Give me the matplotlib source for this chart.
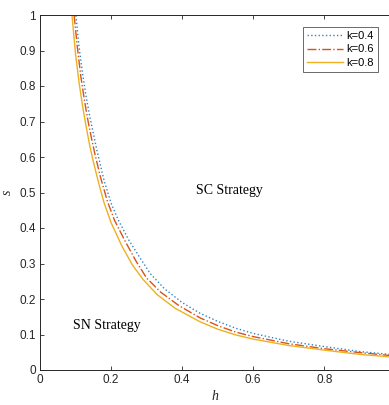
import matplotlib.pyplot as plt

# values (h, s) for each k
h_k04 = [0.097, 0.101, 0.110, 0.120, 0.130, 0.140, 0.150, 0.160, 0.180, 0.200, 0.220,
         0.250, 0.280, 0.310, 0.350, 0.400, 0.450, 0.500, 0.550, 0.600, 0.700, 0.800,
         0.900, 0.983]
s_k04 = [1.040, 1.000, 0.909, 0.833, 0.769, 0.714, 0.667, 0.619, 0.535, 0.470, 0.423,
         0.366, 0.318, 0.272, 0.229, 0.190, 0.160, 0.137, 0.118, 0.103, 0.081, 0.066,
         0.052, 0.044]

h_k06 = [0.092, 0.096, 0.105, 0.115, 0.125, 0.135, 0.145, 0.155, 0.170, 0.190, 0.210,
         0.240, 0.270, 0.300, 0.340, 0.390, 0.450, 0.500, 0.550, 0.600, 0.700, 0.800,
         0.900, 0.983]
s_k06 = [1.040, 1.000, 0.910, 0.826, 0.760, 0.702, 0.652, 0.606, 0.544, 0.474, 0.421,
         0.362, 0.307, 0.259, 0.219, 0.182, 0.147, 0.125, 0.107, 0.094, 0.074, 0.060,
         0.049, 0.041]

h_k08 = [0.086, 0.090, 0.100, 0.110, 0.120, 0.130, 0.140, 0.150, 0.165, 0.180, 0.200,
         0.230, 0.260, 0.290, 0.330, 0.380, 0.450, 0.500, 0.550, 0.600, 0.700, 0.800,
         0.900, 0.983]
s_k08 = [1.040, 1.000, 0.890, 0.809, 0.742, 0.685, 0.632, 0.587, 0.527, 0.472, 0.415,
         0.350, 0.296, 0.255, 0.212, 0.174, 0.136, 0.115, 0.099, 0.087, 0.069, 0.056,
         0.044, 0.037]

xticks = [0, 0.2, 0.4, 0.6, 0.8, 1.0]
xtick_labels = ["0", "0.2", "0.4", "0.6", "0.8", ""]
yticks = [0, 0.1, 0.2, 0.3, 0.4, 0.5, 0.6, 0.7, 0.8, 0.9, 1.0]
ytick_labels = ["0", "0.1", "0.2", "0.3", "0.4", "0.5", "0.6", "0.7", "0.8", "0.9", "1"]

plt.rcParams["font.family"] = ["Liberation Sans", "DejaVu Sans"]
ink = "#262626"

fig = plt.figure(figsize=(3.89, 4.05), dpi=100)
ax = fig.add_axes([40 / 389, 35 / 405, 355.4 / 389, 355 / 405])

ax.plot(h_k04, s_k04, linestyle=":", color="#2E86C8", linewidth=1.0, label="k=0.4")
ax.plot(h_k06, s_k06, linestyle="-.", color="#D95319", linewidth=1.0, label="k=0.6")
ax.plot(h_k08, s_k08, linestyle="-", color="#EDB120", linewidth=1.0, label="k=0.8")

ax.set_xlim(0, 1)
ax.set_ylim(0, 1)
ax.set_xticks(xticks)
ax.set_xticklabels(xtick_labels)
ax.set_yticks(yticks)
ax.set_yticklabels(ytick_labels)
ax.tick_params(direction="in", top=True, right=True, length=3, width=0.6,
               labelsize=8.5, colors=ink, pad=3)
for sp in ax.spines.values():
    sp.set_linewidth(0.7)
    sp.set_color(ink)

ax.set_xlabel("h", family="Liberation Serif", style="italic", fontsize=10,
              color=ink, labelpad=2)
ax.xaxis.set_label_coords((215 - 40) / 355.4, -0.055)
ax.set_ylabel("s", family="Liberation Serif", style="italic", fontsize=10,
              color=ink, rotation=90, labelpad=2)
ax.yaxis.set_label_coords(-0.075, 0.5)

ax.text(0.532, 0.507, "SC Strategy", family="Liberation Serif", fontsize=10,
        ha="center", va="center", color="black")
ax.text(0.189, 0.125, "SN Strategy", family="Liberation Serif", fontsize=10,
        ha="center", va="center", color="black")

leg = ax.legend(loc="upper right", bbox_to_anchor=((378 - 40) / 355.4, (370 - 26.7) / 355),
                fontsize=8, frameon=True, fancybox=False, handlelength=3.3,
                handletextpad=0.3, borderpad=0.35, labelspacing=0.35, borderaxespad=0)
leg.get_frame().set_edgecolor(ink)
leg.get_frame().set_linewidth(0.6)

fig.savefig("out.png", dpi=100)
